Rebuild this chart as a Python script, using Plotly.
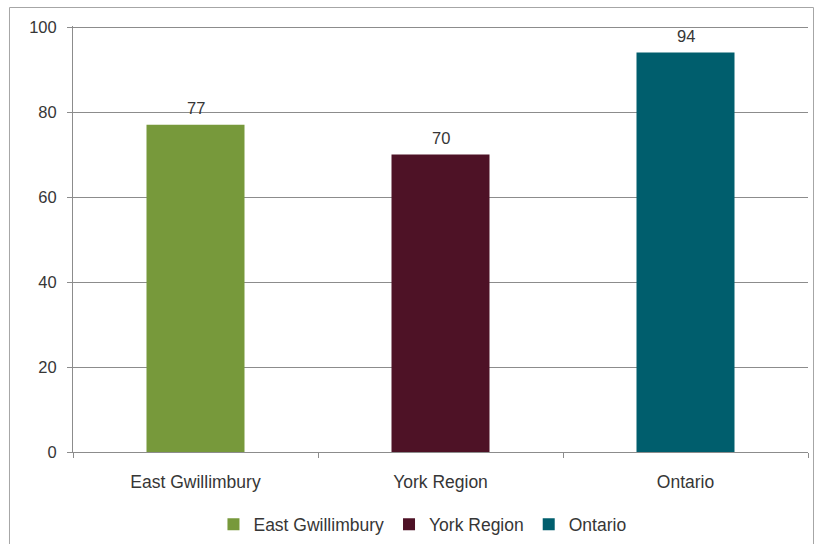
import plotly.graph_objects as go

categories = ["East Gwillimbury", "York Region", "Ontario"]
values = [77, 70, 94]
colors = ["#77993B", "#4E1226", "#005E6D"]
y_ticks = [0, 20, 40, 60, 80, 100]

FONT = "Liberation Sans, Arial, sans-serif"
TEXT = "#363636"
GRID = "#8c8c8c"

fig = go.Figure()
for cat, val, col in zip(categories, values, colors):
    fig.add_trace(go.Bar(
        x=[cat], y=[val], name=cat, width=0.4,
        marker=dict(color=col, line=dict(width=0)),
    ))
    fig.add_annotation(
        x=cat, y=val, text=str(val), showarrow=False,
        yanchor="bottom", yshift=6,
        font=dict(family=FONT, size=16.5, color=TEXT),
    )

# outer chart frame (extends past the bottom of the page)
fig.add_shape(
    type="rect", xref="paper", yref="paper",
    x0=-0.0864, x1=1.0075, y0=-0.3, y1=1.0434,
    line=dict(color="#a6a6a6", width=1), fillcolor="rgba(0,0,0,0)",
)

fig.update_layout(
    width=814, height=544,
    margin=dict(l=73, r=6, t=26, b=92, autoexpand=False),
    plot_bgcolor="white", paper_bgcolor="white",
    barmode="overlay",
    font=dict(family=FONT, size=16.5, color=TEXT),
    showlegend=True,
    legend=dict(
        orientation="h", xref="container", x=0.519, xanchor="center",
        yref="container", y=0.036, yanchor="middle",
        font=dict(family=FONT, size=17.5, color=TEXT),
        itemwidth=30, traceorder="normal",
    ),
    xaxis=dict(
        type="category", categoryorder="array", categoryarray=categories,
        tickson="boundaries", ticks="outside", ticklen=5, tickcolor=GRID,
        showline=True, linecolor=GRID, linewidth=1,
        showgrid=False, range=[-0.5, 2.5],
        ticklabelstandoff=14,
        tickfont=dict(family=FONT, size=17.5, color=TEXT),
    ),
    yaxis=dict(
        range=[0, 100.25], tickvals=y_ticks,
        ticks="outside", ticklen=5, tickcolor=GRID,
        showline=True, linecolor=GRID, linewidth=1,
        showgrid=True, gridcolor=GRID, gridwidth=1,
        zeroline=False,
        ticklabelstandoff=7,
        tickfont=dict(family=FONT, size=16.5, color=TEXT),
    ),
)

fig.write_html("out.html")
